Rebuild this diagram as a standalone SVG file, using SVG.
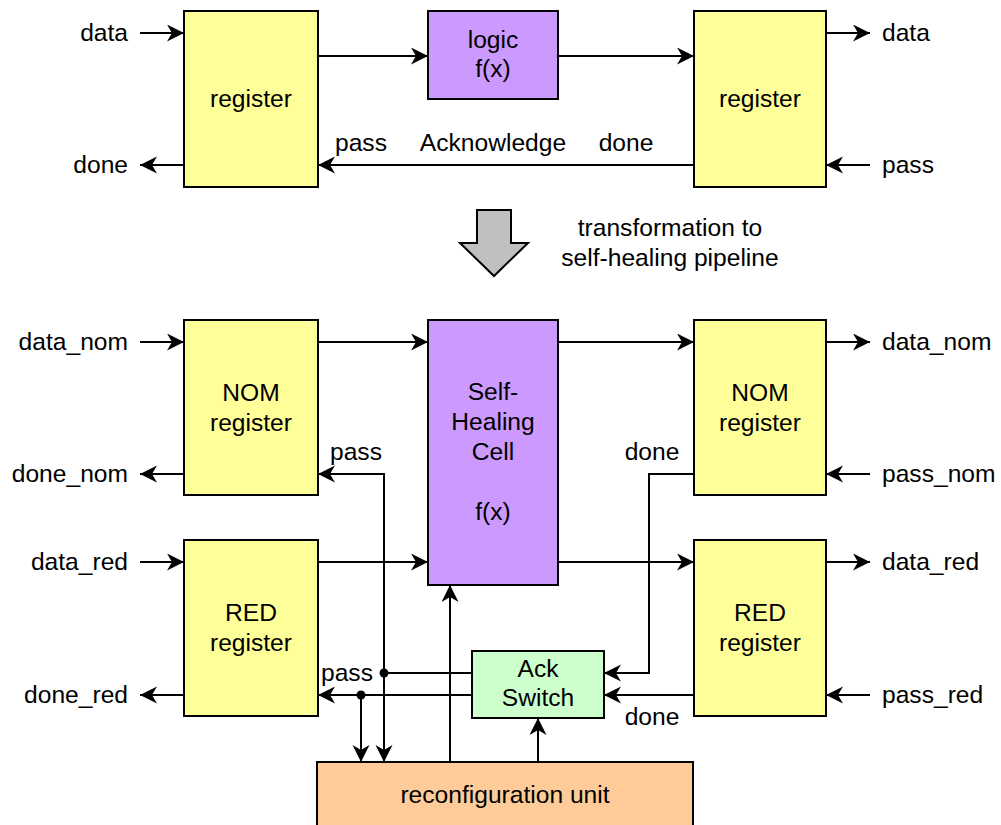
<svg xmlns="http://www.w3.org/2000/svg" width="1001" height="825" viewBox="0 0 1001 825">
<defs>
<marker id="ah" markerUnits="userSpaceOnUse" markerWidth="18" markerHeight="18" refX="17" refY="8.5" orient="auto">
<path d="M0,0 L17,8.5 L0,17 L5,8.5 z" fill="#000"/>
</marker>
<style>
text{font-family:"Liberation Sans",Arial,sans-serif;font-size:24.6px;fill:#000}
.m{text-anchor:middle}
.e{text-anchor:end}
.reg{fill:#ffff99;stroke:#000;stroke-width:2}
.fx{fill:#cc99ff;stroke:#000;stroke-width:2}
.ack{fill:#ccffcc;stroke:#000;stroke-width:2}
.rc{fill:#ffcc99;stroke:#000;stroke-width:2}
.w{fill:none;stroke:#000;stroke-width:2}
.a{fill:none;stroke:#000;stroke-width:2;marker-end:url(#ah)}
</style>
</defs>
<rect width="1001" height="825" fill="#fff"/>

<g id="connectors">
<!-- top -->
<line class="a" x1="140" y1="33" x2="184" y2="33"/>
<line class="a" x1="184" y1="165" x2="140" y2="165"/>
<line class="a" x1="318" y1="56" x2="428" y2="56"/>
<line class="a" x1="694" y1="165" x2="318" y2="165"/>
<line class="a" x1="558" y1="56" x2="694" y2="56"/>
<line class="a" x1="826" y1="33" x2="870" y2="33"/>
<line class="a" x1="870" y1="165" x2="826" y2="165"/>
<!-- bottom outer -->
<line class="a" x1="140" y1="342" x2="184" y2="342"/>
<line class="a" x1="184" y1="474" x2="140" y2="474"/>
<line class="a" x1="140" y1="562" x2="184" y2="562"/>
<line class="a" x1="184" y1="695" x2="140" y2="695"/>
<line class="a" x1="826" y1="342" x2="870" y2="342"/>
<line class="a" x1="870" y1="474" x2="826" y2="474"/>
<line class="a" x1="826" y1="562" x2="870" y2="562"/>
<line class="a" x1="870" y1="695" x2="826" y2="695"/>
<!-- data paths -->
<line class="a" x1="318" y1="342" x2="428" y2="342"/>
<line class="a" x1="318" y1="562" x2="428" y2="562"/>
<line class="a" x1="558" y1="342" x2="694" y2="342"/>
<line class="a" x1="558" y1="562" x2="694" y2="562"/>
<!-- pass paths -->
<line class="w" x1="472" y1="673" x2="384" y2="673"/>
<polyline class="a" points="384,673 384,474 318,474"/>
<line class="a" x1="384" y1="673" x2="384" y2="762"/>
<line class="a" x1="472" y1="695" x2="318" y2="695"/>
<line class="a" x1="361" y1="695" x2="361" y2="762"/>
<circle cx="384" cy="673" r="4.5" fill="#000"/>
<circle cx="361" cy="695" r="4.5" fill="#000"/>
<!-- reconfig -->
<line class="a" x1="450" y1="762" x2="450" y2="585"/>
<line class="a" x1="538" y1="762" x2="538" y2="718"/>
<!-- done paths -->
<polyline class="a" points="694,474 649,474 649,673 604,673"/>
<line class="a" x1="694" y1="695" x2="604" y2="695"/>
</g>

<g id="top-reg-left"><rect class="reg" x="184" y="11" width="134" height="176"/><text class="m" x="251" y="107">register</text></g>
<g id="top-logic"><rect class="fx" x="428" y="11" width="130" height="88"/><text class="m" x="493" y="48">logic</text><text class="m" x="493" y="77">f(x)</text></g>
<g id="top-reg-right"><rect class="reg" x="694" y="11" width="132" height="176"/><text class="m" x="760" y="107">register</text></g>

<g id="top-labels">
<text class="e" x="128" y="41">data</text>
<text class="e" x="128" y="173">done</text>
<text x="882" y="41">data</text>
<text x="882" y="173">pass</text>
<text class="m" x="361" y="151">pass</text>
<text class="m" x="493" y="151">Acknowledge</text>
<text class="m" x="626" y="151">done</text>
</g>

<g id="transform">
<polygon points="477,210 511,210 511,243 528,243 494,276 460,243 477,243" fill="#c0c0c0" stroke="#000" stroke-width="2"/>
<text class="m" x="670" y="236">transformation to</text>
<text class="m" x="670" y="266">self-healing pipeline</text>
</g>

<g id="nom-left"><rect class="reg" x="184" y="320" width="134" height="175"/><text class="m" x="251" y="401">NOM</text><text class="m" x="251" y="431">register</text></g>
<g id="red-left"><rect class="reg" x="184" y="540" width="134" height="176"/><text class="m" x="251" y="621">RED</text><text class="m" x="251" y="651">register</text></g>
<g id="cell"><rect class="fx" x="428" y="320" width="130" height="265"/>
<text class="m" x="493" y="400">Self-</text><text class="m" x="493" y="430">Healing</text><text class="m" x="493" y="460">Cell</text><text class="m" x="493" y="520">f(x)</text></g>
<g id="nom-right"><rect class="reg" x="694" y="320" width="132" height="175"/><text class="m" x="760" y="401">NOM</text><text class="m" x="760" y="431">register</text></g>
<g id="red-right"><rect class="reg" x="694" y="540" width="132" height="176"/><text class="m" x="760" y="621">RED</text><text class="m" x="760" y="651">register</text></g>
<g id="ack-switch"><rect class="ack" x="472" y="651" width="132" height="67"/><text class="m" x="538" y="677">Ack</text><text class="m" x="538" y="706">Switch</text></g>
<g id="reconfig"><rect class="rc" x="317" y="762" width="376" height="70"/><text class="m" x="505" y="803">reconfiguration unit</text></g>

<g id="bottom-labels">
<text class="e" x="128" y="350">data_nom</text>
<text class="e" x="128" y="482">done_nom</text>
<text class="e" x="128" y="570">data_red</text>
<text class="e" x="128" y="703">done_red</text>
<text x="882" y="350">data_nom</text>
<text x="882" y="482">pass_nom</text>
<text x="882" y="570">data_red</text>
<text x="882" y="703">pass_red</text>
<text class="m" x="356" y="460">pass</text>
<text class="m" x="652" y="460">done</text>
<text class="m" x="347" y="681">pass</text>
<text class="m" x="652" y="725">done</text>
</g>
</svg>
